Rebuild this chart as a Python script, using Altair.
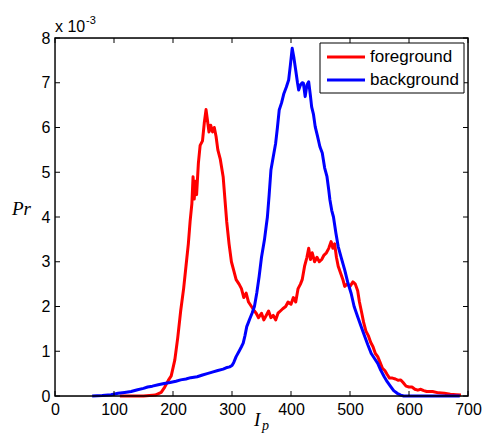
import altair as alt
import pandas as pd

# ---- data (values in units of 1e-3) ----
fg_x = [110, 150, 170, 180, 186, 192, 197, 203, 208, 213, 218, 222, 226, 229, 232, 234, 236, 238, 240, 243,
        246, 250, 253, 256, 258, 261, 264, 267, 270, 273, 276, 280, 285, 288, 291, 295, 299, 303, 307, 312,
        316, 320, 324, 328, 333, 338, 341, 345, 350, 354, 358, 362, 366, 370, 374, 378, 382, 386, 391, 395,
        400, 404, 408, 412, 416, 419, 423, 427, 430, 433, 436, 440, 444, 448, 452, 456, 460, 464, 468, 471,
        474, 477, 480, 484, 488, 491, 495, 500, 505, 509, 513, 516, 520, 523, 527, 531, 535, 539, 543, 547,
        551, 555, 559, 563, 567, 572, 577, 582, 586, 590, 595, 600, 605, 610, 615, 620, 625, 630, 640, 650,
        660, 670, 680, 688]
fg_y = [0, 0, 0.02, 0.08, 0.2, 0.35, 0.45, 0.8, 1.3, 1.9, 2.4, 2.9, 3.4, 3.9, 4.3, 4.9, 4.4, 4.8, 4.5, 5.2,
        5.6, 5.7, 6.1, 6.4, 6.2, 5.9, 6.05, 5.9, 6.0, 5.8, 5.5, 5.3, 4.9, 4.4, 3.9, 3.4, 3.0, 2.8, 2.6, 2.5,
        2.4, 2.2, 2.3, 2.1, 2.0, 1.9, 1.85, 1.75, 1.85, 1.7, 1.8, 1.9, 1.75, 1.8, 1.7, 1.85, 1.9, 1.95, 2.0, 2.1,
        2.05, 2.2, 2.1, 2.4, 2.5, 2.6, 2.9, 3.1, 3.3, 3.05, 3.2, 3.0, 3.1, 3.0, 3.05, 3.15, 3.2, 3.3, 3.45, 3.3,
        3.4, 3.1, 2.9, 2.75, 2.6, 2.45, 2.5, 2.45, 2.55, 2.5, 2.35, 2.1, 1.85, 1.65, 1.45, 1.35, 1.2, 1.1, 0.95, 0.88,
        0.75, 0.62, 0.57, 0.48, 0.4, 0.4, 0.38, 0.35, 0.36, 0.3, 0.22, 0.2, 0.2, 0.15, 0.13, 0.15, 0.12, 0.1, 0.1, 0.07,
        0.06, 0.04, 0.03, 0.02]

bg_x = [63, 80, 95, 107, 118, 129, 140, 150, 157, 165, 175, 185, 195, 205, 213, 222, 230, 241, 250, 258,
        268, 276, 285, 290, 296, 300, 303, 307, 312, 316, 319, 322, 325, 328, 330, 334, 338, 342, 346, 350,
        355, 358, 360, 363, 366, 370, 374, 377, 380, 384, 388, 392, 396, 399, 402, 405, 408, 411, 413, 416,
        419, 421, 424, 427, 430, 433, 435, 438, 441, 445, 449, 453, 457, 461, 464, 466, 469, 472, 476, 480,
        485, 491, 496, 502, 507, 513, 519, 525, 530, 536, 541, 547, 552, 558, 563, 569, 574, 580, 586, 591,
        620, 686]
bg_y = [0, 0.01, 0.03, 0.06, 0.08, 0.1, 0.14, 0.17, 0.2, 0.22, 0.25, 0.28, 0.3, 0.33, 0.36, 0.38, 0.41, 0.43, 0.47, 0.5,
        0.54, 0.57, 0.6, 0.63, 0.65, 0.68, 0.75, 0.88, 1.0, 1.1, 1.18, 1.35, 1.55, 1.65, 1.72, 1.85, 2.0, 2.3, 2.67, 3.1,
        3.49, 3.8, 4.0, 4.5, 5.05, 5.35, 5.65, 6.0, 6.39, 6.55, 6.76, 6.9, 7.06, 7.4, 7.77, 7.55, 7.28, 7.0, 6.84, 6.95,
        7.0, 6.99, 6.69, 6.95, 7.02, 6.7, 6.46, 6.3, 6.02, 5.8, 5.57, 5.43, 5.1, 4.9, 4.6, 4.38, 4.15, 4.0, 3.65, 3.34,
        3.1, 2.82, 2.55, 2.29, 2.0, 1.77, 1.55, 1.33, 1.15, 0.95, 0.85, 0.73, 0.58, 0.43, 0.32, 0.21, 0.12, 0.06, 0.02, 0.0,
        0, 0]

series_names = ["foreground", "background"]
series_colors = ["#ff0000", "#0000ff"]
x_ticks = [0, 100, 200, 300, 400, 500, 600, 700]
y_ticks = [0, 1, 2, 3, 4, 5, 6, 7, 8]

W, H = 413, 358
FONT = "Liberation Sans"

df = pd.concat([
    pd.DataFrame({"x": fg_x, "y": fg_y, "series": series_names[0], "o": range(len(fg_x))}),
    pd.DataFrame({"x": bg_x, "y": bg_y, "series": series_names[1], "o": range(len(bg_x))}),
])

xscale = alt.Scale(domain=[0, 700], nice=False, zero=False)
yscale = alt.Scale(domain=[0, 8], nice=False, zero=False)

xaxis = alt.Axis(values=x_ticks, ticks=False, domain=False, grid=False, labelFont=FONT,
                 labelFontSize=16, labelColor="black", labelPadding=5, title=None, labelFlush=False)
yaxis = alt.Axis(values=y_ticks, ticks=False, domain=False, grid=False, labelFont=FONT,
                 labelFontSize=16, labelColor="black", labelPadding=5, title=None, labelFlush=False)

lines = []
for name, col in zip(series_names, series_colors):
    lines.append(
        alt.Chart(df[df.series == name]).mark_line(strokeWidth=3, color=col, strokeJoin="round").encode(
            x=alt.X("x:Q", scale=xscale, axis=xaxis),
            y=alt.Y("y:Q", scale=yscale, axis=yaxis),
            order="o:Q",
        )
    )

xt = pd.DataFrame({"t": x_ticks})
yt = pd.DataFrame({"t": y_ticks})
ticks = [
    alt.Chart(xt).mark_rule(color="black", strokeWidth=1).encode(
        x=alt.X("t:Q", scale=xscale), y=alt.value(H), y2=alt.value(H - 5)),
    alt.Chart(xt).mark_rule(color="black", strokeWidth=1).encode(
        x=alt.X("t:Q", scale=xscale), y=alt.value(0), y2=alt.value(5)),
    alt.Chart(yt).mark_rule(color="black", strokeWidth=1).encode(
        y=alt.Y("t:Q", scale=yscale), x=alt.value(0), x2=alt.value(5)),
    alt.Chart(yt).mark_rule(color="black", strokeWidth=1).encode(
        y=alt.Y("t:Q", scale=yscale), x=alt.value(W), x2=alt.value(W - 5)),
]

one = pd.DataFrame({"a": [0]})

def txt(s, x, y, size, font=FONT, style="normal", align="left"):
    return alt.Chart(pd.DataFrame({"s": [s]})).mark_text(
        font=font, fontSize=size, fontStyle=style, align=align, baseline="middle", color="black"
    ).encode(text="s:N", x=alt.value(x), y=alt.value(y))

annots = [
    txt("x 10", 0, -11, 16),
    txt("-3", 31, -17, 11),
    txt("Pr", -43, 171, 19, font="Liberation Serif", style="italic"),
    txt("I", 199, 382, 19, font="Liberation Serif", style="italic"),
    txt("p", 207, 388, 14, font="Liberation Serif", style="italic"),
]

frame = [
    alt.Chart(one).mark_rect(fill=None, stroke="black", strokeWidth=1.4).encode(
        x=alt.value(0), x2=alt.value(W), y=alt.value(0), y2=alt.value(H)),
]

legend = [
    alt.Chart(one).mark_rect(fill="white", stroke="black", strokeWidth=1).encode(
        x=alt.value(265), x2=alt.value(409), y=alt.value(5), y2=alt.value(55)),
]
for i, (name, col) in enumerate(zip(series_names, series_colors)):
    yy = 19 + 23 * i
    legend.append(alt.Chart(one).mark_rule(color=col, strokeWidth=3).encode(
        x=alt.value(272), x2=alt.value(310), y=alt.value(yy)))
    legend.append(txt(name, 315, yy, 17))

chart = alt.layer(*lines, *ticks, *frame, *annots, *legend).properties(
    width=W, height=H,
    padding={"left": 47, "top": 30, "right": 14, "bottom": 39},
    autosize=alt.AutoSizeParams(type="none"),
).configure_view(stroke=None).configure(background="white")

chart.save("out.html", embed_options={"renderer": "svg", "actions": False})
